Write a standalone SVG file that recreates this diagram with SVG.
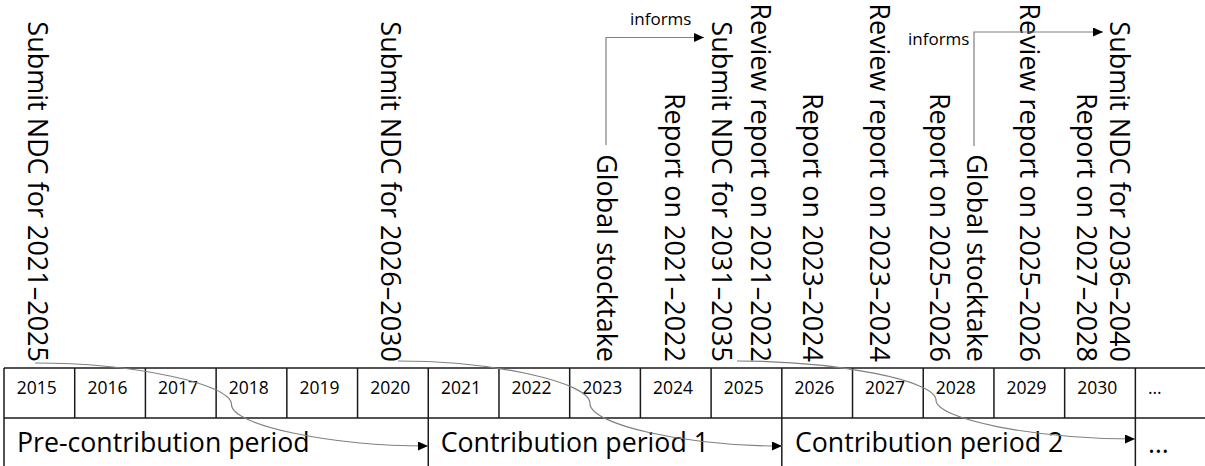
<svg xmlns="http://www.w3.org/2000/svg" width="1205" height="466" viewBox="0 0 1205 466">
<style>
  .lbl{font-family:"Open Sans","Liberation Sans",sans-serif;font-size:27px;fill:#000;text-anchor:end}
  .yr{font-family:"Open Sans","Liberation Sans",sans-serif;font-size:17.5px;fill:#000}
  .per{font-family:"Open Sans","Liberation Sans",sans-serif;font-size:26.7px;fill:#000}
  .inf{font-family:"Open Sans","Liberation Sans",sans-serif;font-size:17px;fill:#000}
  .grid line{stroke:#1a1a1a;stroke-width:1.5}
  .conn{fill:none;stroke:#808080;stroke-width:1.2;marker-end:url(#arr)}
</style>
<defs>
  <marker id="arr" markerUnits="userSpaceOnUse" markerWidth="11" markerHeight="9" refX="10" refY="4.5" orient="auto">
    <path d="M0,0 L10,4.5 L0,9 z" fill="#000"/>
  </marker>
</defs>
<rect width="1205" height="466" fill="#fff"/>

<g id="timeline" class="grid">
  <line x1="4" y1="368" x2="1205" y2="368"/>
  <line x1="4" y1="418" x2="1205" y2="418"/>
  <line x1="4" y1="368" x2="4" y2="466"/>
  <line x1="74.71" y1="368" x2="74.71" y2="418"/>
  <line x1="145.42" y1="368" x2="145.42" y2="418"/>
  <line x1="216.13" y1="368" x2="216.13" y2="418"/>
  <line x1="286.84" y1="368" x2="286.84" y2="418"/>
  <line x1="357.55" y1="368" x2="357.55" y2="418"/>
  <line x1="428.26" y1="368" x2="428.26" y2="466"/>
  <line x1="498.97" y1="368" x2="498.97" y2="418"/>
  <line x1="569.68" y1="368" x2="569.68" y2="418"/>
  <line x1="640.39" y1="368" x2="640.39" y2="418"/>
  <line x1="711.1" y1="368" x2="711.1" y2="418"/>
  <line x1="781.81" y1="368" x2="781.81" y2="466"/>
  <line x1="852.52" y1="368" x2="852.52" y2="418"/>
  <line x1="923.23" y1="368" x2="923.23" y2="418"/>
  <line x1="993.94" y1="368" x2="993.94" y2="418"/>
  <line x1="1064.65" y1="368" x2="1064.65" y2="418"/>
  <line x1="1135.36" y1="368" x2="1135.36" y2="466"/>
</g>

<g id="years">
  <text class="yr" x="16.7" y="394">2015</text>
  <text class="yr" x="87.4" y="394">2016</text>
  <text class="yr" x="158.1" y="394">2017</text>
  <text class="yr" x="228.8" y="394">2018</text>
  <text class="yr" x="299.5" y="394">2019</text>
  <text class="yr" x="370.2" y="394">2020</text>
  <text class="yr" x="440.9" y="394">2021</text>
  <text class="yr" x="511.6" y="394">2022</text>
  <text class="yr" x="582.3" y="394">2023</text>
  <text class="yr" x="653" y="394">2024</text>
  <text class="yr" x="723.7" y="394">2025</text>
  <text class="yr" x="794.4" y="394">2026</text>
  <text class="yr" x="865.1" y="394">2027</text>
  <text class="yr" x="935.8" y="394">2028</text>
  <text class="yr" x="1006.5" y="394">2029</text>
  <text class="yr" x="1077.2" y="394">2030</text>
  <text class="yr" x="1148" y="394">…</text>
</g>

<g id="period-pre"><text class="per" x="17" y="452">Pre-contribution period</text></g>
<g id="period-1"><text class="per" x="440.7" y="452">Contribution period 1</text></g>
<g id="period-2"><text class="per" x="795" y="452">Contribution period 2</text></g>
<g id="period-next"><text class="per" x="1148" y="453">…</text></g>

<g id="ndc-2021"><text class="lbl" transform="translate(28,362) rotate(90)">Submit NDC for 2021–2025</text></g>
<g id="ndc-2026"><text class="lbl" transform="translate(381,362) rotate(90)">Submit NDC for 2026–2030</text></g>
<g id="gst-1"><text class="lbl" transform="translate(597,362) rotate(90)">Global stocktake</text></g>
<g id="report-2021"><text class="lbl" transform="translate(665,362) rotate(90)">Report on 2021–2022</text></g>
<g id="ndc-2031"><text class="lbl" transform="translate(712,362) rotate(90)">Submit NDC for 2031–2035</text></g>
<g id="review-2021"><text class="lbl" transform="translate(751,362) rotate(90)">Review report on 2021–2022</text></g>
<g id="report-2023"><text class="lbl" transform="translate(803,362) rotate(90)">Report on 2023–2024</text></g>
<g id="review-2023"><text class="lbl" transform="translate(870,362) rotate(90)">Review report on 2023–2024</text></g>
<g id="report-2025"><text class="lbl" transform="translate(930,362) rotate(90)">Report on 2025–2026</text></g>
<g id="gst-2"><text class="lbl" transform="translate(967,362) rotate(90)">Global stocktake</text></g>
<g id="review-2025"><text class="lbl" transform="translate(1020,362) rotate(90)">Review report on 2025–2026</text></g>
<g id="report-2027"><text class="lbl" transform="translate(1077,362) rotate(90)">Report on 2027–2028</text></g>
<g id="ndc-2036"><text class="lbl" transform="translate(1110,362) rotate(90)">Submit NDC for 2036–2040</text></g>

<g id="connectors">
  <path class="conn" d="M35,363 C133.25,363 231.5,383.75 231.5,404.5 C231.5,425.25 329.75,446 428,446"/>
  <path class="conn" d="M398,361 C494,361 590,382.25 590,403.5 C590,424.75 686,446 782,446"/>
  <path class="conn" d="M737,361 C836.5,361 936,380.5 936,400 C936,419.5 1035.5,439 1135,439"/>
  <path class="conn" d="M606,145 V37.5 H704"/>
  <path class="conn" d="M974,146 V32 H1103"/>
  <text class="inf" x="630" y="25">informs</text>
  <text class="inf" x="908" y="45">informs</text>
</g>
</svg>
